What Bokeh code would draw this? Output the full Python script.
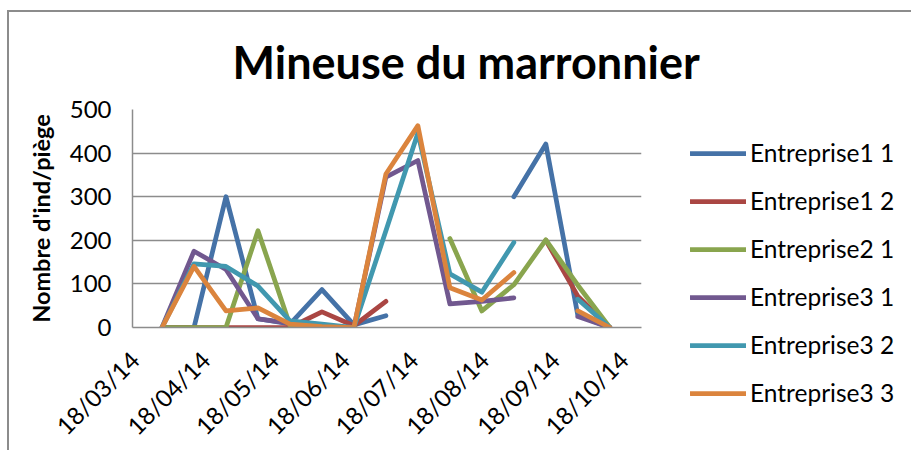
from datetime import datetime
import math
from bokeh.plotting import figure
from bokeh.models import ColumnDataSource, Range1d, FixedTicker, Legend, LegendItem
from bokeh.embed import file_html
from bokeh.resources import INLINE

NaN = float("nan")

# ---- data ----
dates = ["30/03/2014", "13/04/2014", "27/04/2014", "11/05/2014", "25/05/2014",
         "08/06/2014", "22/06/2014", "06/07/2014", "20/07/2014", "03/08/2014",
         "17/08/2014", "31/08/2014", "14/09/2014", "28/09/2014", "12/10/2014"]

series_names = ["Entreprise1 1", "Entreprise1 2", "Entreprise2 1",
                "Entreprise3 1", "Entreprise3 2", "Entreprise3 3"]

entreprise1_1 = [0, 0, 300, 20, 8, 87, 6, 27, NaN, NaN, NaN, 300, 421, 28, 0]
entreprise1_2 = [0, 0, 0, 0, 0, 36, 4, 60, NaN, NaN, NaN, NaN, 200, 72, 0]
entreprise2_1 = [0, 0, 0, 222, 5, 0, 0, NaN, NaN, 204, 38, 98, 201, 97, 0]
entreprise3_1 = [0, 175, 133, 20, 10, 2, 0, 345, 383, 54, 60, 68, NaN, 25, 0]
entreprise3_2 = [0, 146, 140, 95, 15, 8, 0, 222, 446, 123, 81, 195, NaN, 65, 0]
entreprise3_3 = [0, 140, 38, 45, 8, 2, 0, 352, 463, 91, 63, 126, NaN, 38, 0]

tick_dates = ["18/03/2014", "18/04/2014", "18/05/2014", "18/06/2014",
              "18/07/2014", "18/08/2014", "18/09/2014", "18/10/2014"]
tick_labels = ["18/03/14", "18/04/14", "18/05/14", "18/06/14",
               "18/07/14", "18/08/14", "18/09/14", "18/10/14"]
y_ticks = [0, 100, 200, 300, 400, 500]

colors = ["#4572A7", "#AA4643", "#89A54E", "#71588F", "#4198AF", "#DB843D"]


def to_dt(s):
    return datetime.strptime(s, "%d/%m/%Y")


def to_ms(d):
    return (d - datetime(1970, 1, 1)).total_seconds() * 1000.0


cols = ["e11", "e12", "e21", "e31", "e32", "e33"]
values = [entreprise1_1, entreprise1_2, entreprise2_1,
          entreprise3_1, entreprise3_2, entreprise3_3]
data = {"x": [to_dt(d) for d in dates]}
for c, v in zip(cols, values):
    data[c] = v
src = ColumnDataSource(data)

FONT = "Lato"
GRAY = "#8c8c8c"

p = figure(frame_width=509, frame_height=218, x_axis_type="datetime",
           x_range=Range1d(datetime(2014, 3, 17, 2), datetime(2014, 10, 25, 21)),
           y_range=Range1d(0, 500),
           output_backend="svg", toolbar_location=None,
           min_border_left=123, min_border_right=0,
           min_border_top=90, min_border_bottom=127)

p.styles = {"margin-left": "7px", "margin-top": "10px",
            "border-left": "2px solid #8c8c8c", "border-top": "2px solid #8c8c8c"}
p.outline_line_color = None
p.background_fill_color = "white"
p.border_fill_color = "white"

# title
p.title.text = "Mineuse du marronnier"
p.title.align = "left"
p.title.offset = 100
p.title.standoff = 41
p.title.text_font = FONT
p.title.text_font_style = "bold"
p.title.text_font_size = "45px"
p.title.text_color = "black"

# axes
tick_ms = [to_ms(to_dt(d)) for d in tick_dates]
xa = p.xaxis[0]
xa.ticker = FixedTicker(ticks=tick_ms)
xa.major_label_overrides = {t: lab for t, lab in zip(tick_ms, tick_labels)}
xa.major_label_orientation = math.pi / 4
xa.major_label_standoff = 28
xa.major_tick_out = 0
xa.major_tick_in = 0
xa.minor_tick_out = 0
xa.minor_tick_in = 0
xa.axis_line_color = GRAY
xa.axis_line_width = 1.5
xa.major_label_text_font = FONT
xa.major_label_text_font_size = "24px"
xa.major_label_text_color = "black"

ya = p.yaxis[0]
ya.ticker = FixedTicker(ticks=y_ticks)
ya.major_label_standoff = 21
ya.major_tick_out = 0
ya.major_tick_in = 0
ya.minor_tick_out = 0
ya.minor_tick_in = 0
ya.axis_line_color = GRAY
ya.axis_line_width = 1.5
ya.major_label_text_font = FONT
ya.major_label_text_font_size = "24px"
ya.major_label_text_color = "black"
ya.axis_label = "Nombre d'ind/piège"
ya.axis_label_text_font = FONT
ya.axis_label_text_font_style = "bold"
ya.axis_label_text_font_size = "23.5px"
ya.axis_label_text_color = "black"
ya.axis_label_standoff = 12

p.xgrid.visible = False
p.ygrid.ticker = FixedTicker(ticks=y_ticks)
p.ygrid.grid_line_color = GRAY
p.ygrid.grid_line_width = 1.5

items = []
for name, c, color in zip(series_names, cols, colors):
    r = p.line("x", c, source=src, line_width=4.75, line_color=color,
               line_cap="round", line_join="round")
    items.append(LegendItem(label=name, renderers=[r]))

legend = Legend(items=items, location=(49, -80))
legend.border_line_color = None
legend.background_fill_alpha = 0
legend.padding = 0
legend.margin = 0
legend.spacing = 19
legend.glyph_width = 56
legend.glyph_height = 28
legend.label_height = 28
legend.label_standoff = 4
legend.label_text_font = FONT
legend.label_text_font_size = "24.5px"
legend.label_text_color = "black"
p.add_layout(legend, "right")

open("out.html", "w").write(file_html(p, INLINE))
